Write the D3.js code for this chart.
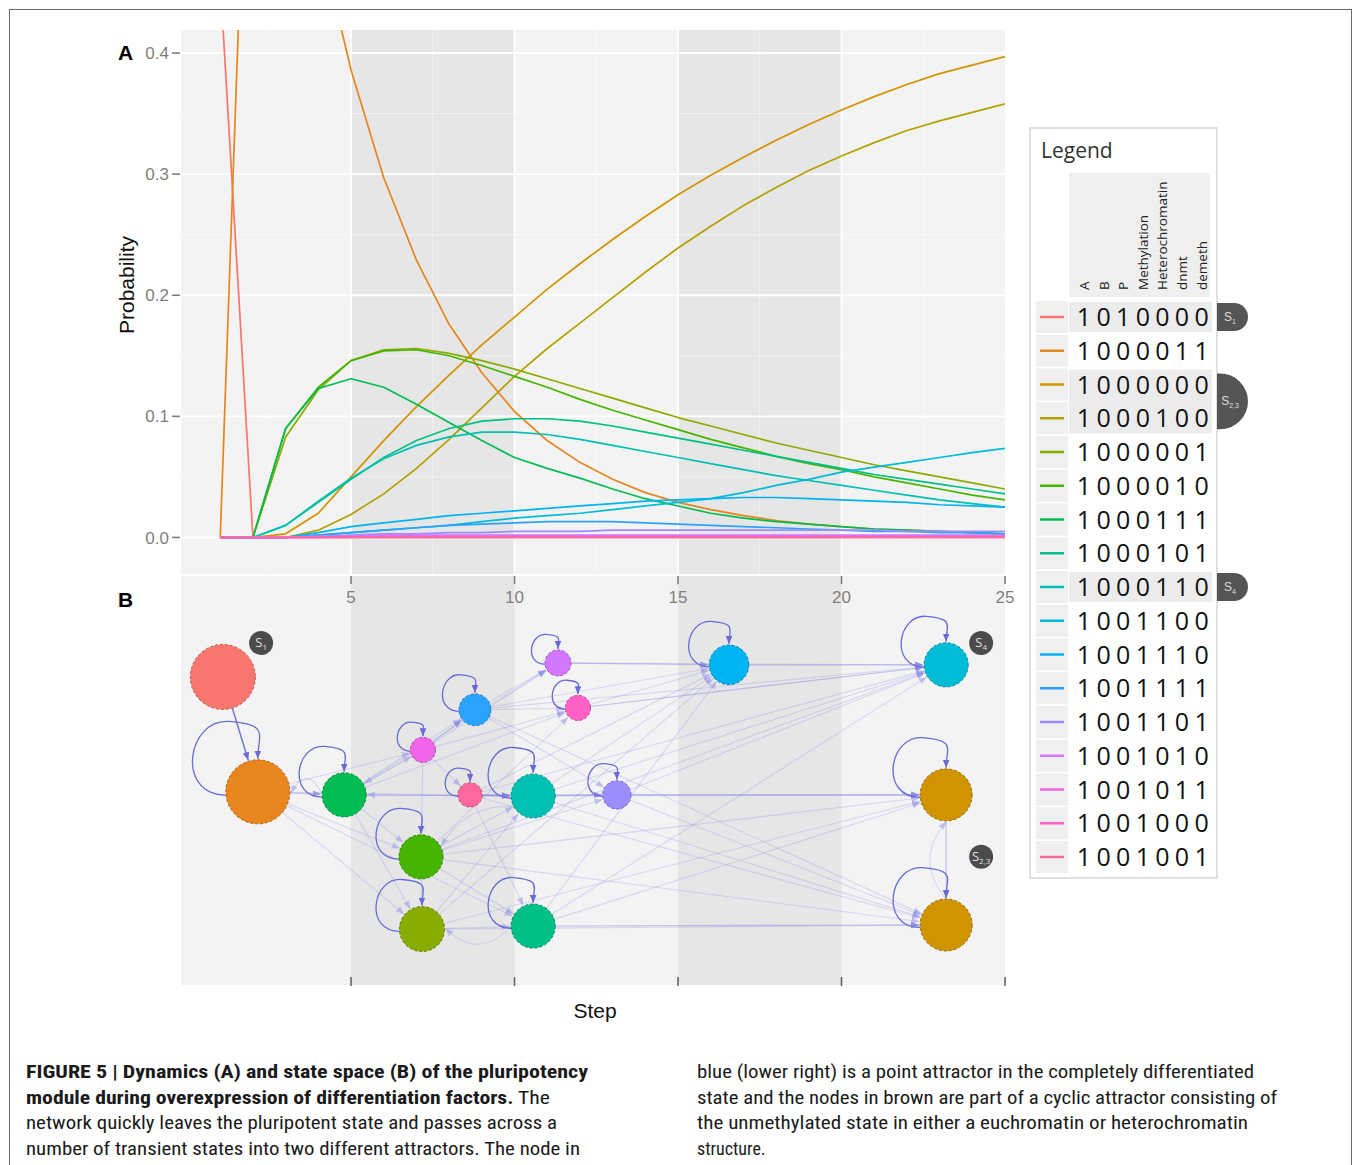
<!DOCTYPE html>
<html lang="en">
<head>
<meta charset="UTF-8" />
<title>Figure 5</title>
<script src="https://d3js.org/d3.v7.min.js"></script>
<style>
  body { margin: 0; background: #fff; }
  svg text { font-family: "Liberation Sans", Arial, sans-serif; }
</style>
</head>
<body>
<svg id="fig" width="1354" height="1165"></svg>
<script>
// ---- data -------------------------------------------------------------
var steps = [1, 2, 3, 4, 5, 6, 7, 8, 9, 10, 11, 12, 13, 14, 15, 16, 17, 18, 19, 20, 21, 22, 23, 24, 25];
var xTicks = [5, 10, 15, 20, 25];
var yTicks = [0, 0.1, 0.2, 0.3, 0.4];
var yTickLabels = ["0.0", "0.1", "0.2", "0.3", "0.4"];

var states = ["1010000", "1000011", "1000000", "1000100", "1000001", "1000010", "1000111", "1000101",
  "1000110", "1001100", "1001110", "1001111", "1001101", "1001010", "1001011", "1001000", "1001001"];
var stateColumns = ["A", "B", "P", "Methylation", "Heterochromatin", "dnmt", "demeth"];
var attractorTags = [{ rows: [0], sub: "1" }, { rows: [2, 3], sub: "2,3" }, { rows: [8], sub: "4" }];

// probability of each state per step (steps 1..25)
var p1010000 = [0.46, 0, 0, 0, 0, 0, 0, 0, 0, 0, 0, 0, 0, 0, 0, 0, 0, 0, 0, 0, 0, 0, 0, 0, 0];
var p1000011 = [0, 0.76, 0.64, 0.50, 0.386, 0.297, 0.229, 0.176, 0.136, 0.104, 0.080, 0.062, 0.048, 0.037, 0.029, 0.023, 0.018, 0.014, 0.011, 0.009, 0.007, 0.006, 0.005, 0.004, 0.003];
var p1000000 = [0, 0, 0.003, 0.02, 0.05, 0.08, 0.108, 0.134, 0.159, 0.182, 0.205, 0.226, 0.246, 0.265, 0.283, 0.299, 0.314, 0.328, 0.341, 0.353, 0.364, 0.374, 0.383, 0.390, 0.397];
var p1000100 = [0, 0, 0, 0.006, 0.019, 0.036, 0.057, 0.081, 0.107, 0.133, 0.156, 0.177, 0.198, 0.219, 0.239, 0.257, 0.274, 0.289, 0.303, 0.315, 0.326, 0.336, 0.344, 0.351, 0.358];
var p1000001 = [0, 0, 0.083, 0.122, 0.146, 0.155, 0.156, 0.152, 0.146, 0.139, 0.131, 0.123, 0.115, 0.107, 0.099, 0.092, 0.085, 0.078, 0.072, 0.066, 0.060, 0.055, 0.050, 0.045, 0.040];
var p1000010 = [0, 0, 0.090, 0.124, 0.146, 0.154, 0.155, 0.150, 0.142, 0.133, 0.124, 0.114, 0.105, 0.097, 0.089, 0.081, 0.074, 0.067, 0.061, 0.056, 0.050, 0.045, 0.040, 0.035, 0.031];
var p1000111 = [0, 0, 0.090, 0.123, 0.131, 0.124, 0.110, 0.095, 0.080, 0.066, 0.057, 0.049, 0.040, 0.032, 0.026, 0.020, 0.016, 0.013, 0.011, 0.009, 0.007, 0.006, 0.005, 0.004, 0.003];
var p1000101 = [0, 0, 0.010, 0.029, 0.048, 0.066, 0.080, 0.090, 0.096, 0.098, 0.098, 0.096, 0.092, 0.087, 0.082, 0.077, 0.072, 0.067, 0.062, 0.057, 0.052, 0.048, 0.044, 0.040, 0.036];
var p1000110 = [0, 0, 0.010, 0.030, 0.049, 0.065, 0.076, 0.083, 0.087, 0.087, 0.085, 0.081, 0.076, 0.071, 0.066, 0.061, 0.056, 0.051, 0.047, 0.043, 0.039, 0.035, 0.031, 0.028, 0.025];
var p1001100 = [0, 0, 0, 0.002, 0.004, 0.006, 0.008, 0.010, 0.013, 0.016, 0.018, 0.020, 0.023, 0.026, 0.029, 0.032, 0.037, 0.043, 0.048, 0.054, 0.058, 0.062, 0.066, 0.070, 0.0735];
var p1001110 = [0, 0, 0, 0.004, 0.009, 0.012, 0.015, 0.018, 0.020, 0.022, 0.024, 0.026, 0.028, 0.030, 0.031, 0.032, 0.033, 0.033, 0.032, 0.031, 0.030, 0.029, 0.027, 0.026, 0.025];
var p1001111 = [0, 0, 0, 0.002, 0.004, 0.006, 0.008, 0.010, 0.011, 0.012, 0.013, 0.013, 0.013, 0.012, 0.011, 0.010, 0.009, 0.008, 0.007, 0.006, 0.005, 0.005, 0.004, 0.004, 0.003];
var p1001101 = [0, 0, 0, 0.001, 0.002, 0.003, 0.003, 0.004, 0.004, 0.005, 0.005, 0.005, 0.006, 0.006, 0.006, 0.006, 0.006, 0.006, 0.006, 0.006, 0.006, 0.005, 0.005, 0.005, 0.005];
var p1001010 = [0, 0, 0, 0.001, 0.001, 0.002, 0.002, 0.002, 0.002, 0.002, 0.002, 0.002, 0.002, 0.002, 0.002, 0.002, 0.002, 0.002, 0.002, 0.002, 0.002, 0.002, 0.002, 0.002, 0.002];
var p1001011 = [0, 0, 0, 0, 0.001, 0.001, 0.001, 0.001, 0.001, 0.001, 0.001, 0.001, 0.001, 0.001, 0.001, 0.001, 0.001, 0.001, 0.001, 0.001, 0.001, 0.001, 0.001, 0.001, 0.001];
var p1001000 = [0, 0, 0, 0, 0, 0.0005, 0.0005, 0.0005, 0.0005, 0.0005, 0.0005, 0.0005, 0.0005, 0.0005, 0.0005, 0.0005, 0.0005, 0.0005, 0.0005, 0.0005, 0.0005, 0.0005, 0.0005, 0.0005, 0.0005];
var p1001001 = [0, 0, 0, 0, 0, 0, 0, 0, 0, 0, 0, 0, 0, 0, 0, 0, 0, 0, 0, 0, 0, 0, 0, 0, 0];

var seriesValues = [p1010000, p1000011, p1000000, p1000100, p1000001, p1000010, p1000111, p1000101,
  p1000110, p1001100, p1001110, p1001111, p1001101, p1001010, p1001011, p1001000, p1001001];

// state space network (B): layout step, layout row (0-100), weight, colour index
var nodeStep = [1.08, 2.15, 4.79, 7.14, 7.17, 10.57, 10.57, 8.79, 7.20, 8.64, 11.33, 11.94, 13.13, 16.56, 23.2, 23.2, 23.2];
var nodeRow = [18.5, 48.9, 49.7, 66.1, 85.2, 84.4, 50.0, 27.2, 37.8, 49.7, 14.8, 26.7, 49.7, 15.3, 15.3, 49.7, 84.1];
var nodeWeight = [1.0, 0.97, 0.46, 0.46, 0.48, 0.46, 0.46, 0.24, 0.15, 0.14, 0.16, 0.15, 0.19, 0.37, 0.46, 0.64, 0.64];
var nodeHue = [0, 1, 6, 5, 4, 7, 8, 11, 14, 16, 13, 15, 12, 10, 9, 2, 2];
var nodeLoop = [false, true, true, true, true, true, true, true, true, true, true, true, true, true, true, true, true];
// [source, target, strength, bend]
var edges = [
  [0, 1, 3, 0], [1, 2, 2, 0], [1, 3, 1, 0], [1, 4, 1, 0], [1, 6, 1, 0], [1, 8, 1, 0], [1, 5, 1, 0],
  [2, 1, 1, 0.35], [2, 3, 1, 0], [2, 4, 1, 0], [2, 6, 2, 0], [2, 7, 1, 0], [2, 8, 1, 0], [2, 10, 1, 0], [2, 11, 1, 0],
  [3, 4, 1, 0], [3, 5, 1, 0], [3, 6, 1, 0], [3, 12, 1, 0], [3, 14, 1, 0], [3, 15, 1, 0], [3, 16, 1, 0], [3, 11, 1, 0],
  [4, 5, 1, 0], [4, 6, 1, 0], [4, 15, 1, 0], [4, 16, 1, 0], [4, 13, 1, 0],
  [5, 4, 1, -0.3], [5, 13, 1, 0], [5, 14, 1, 0], [5, 15, 1, 0], [5, 16, 2, 0],
  [6, 12, 2, 0], [6, 13, 1, 0], [6, 14, 1, 0], [6, 15, 1, 0], [6, 16, 1, 0], [6, 2, 1, 0], [6, 3, 1, 0.2],
  [7, 10, 1, 0], [7, 11, 1, 0], [7, 13, 1, 0], [7, 14, 1, 0], [7, 12, 1, 0], [7, 16, 1, 0],
  [8, 7, 2, 0], [8, 10, 1, 0], [8, 11, 1, 0], [8, 9, 1, 0], [8, 2, 1, 0], [8, 3, 1, 0],
  [9, 6, 2, 0], [9, 12, 1, 0], [9, 13, 1, 0], [9, 14, 1, 0], [9, 15, 1, 0], [9, 16, 1, 0], [9, 5, 1, 0],
  [10, 13, 2, 0], [10, 14, 1, 0], [11, 13, 1, 0], [11, 14, 2, 0],
  [12, 14, 1, 0], [12, 15, 2, 0], [12, 16, 1, 0], [13, 14, 2, 0], [15, 16, 2, 0], [16, 15, 1, -0.25]
];
var badgeStep = [2.25, 24.27, 24.27];
var badgeRow = [9.5, 9.5, 66.1];
var badgeSub = ["1", "4", "2,3"];

var captionLeft = [
  [["FIGURE 5 | Dynamics (A) and state space (B) of the pluripotency", true]],
  [["module during overexpression of differentiation factors.", true], [" The", false]],
  [["network quickly leaves the pluripotent state and passes across a", false]],
  [["number of transient states into two different attractors. The node in", false]]
];
var captionRight = [
  "blue (lower right) is a point attractor in the completely differentiated",
  "state and the nodes in brown are part of a cyclic attractor consisting of",
  "the unmethylated state in either a euchromatin or heterochromatin",
  "structure."
];

// ---- ggplot-like hue palette (polar LUV) -----------------------------
function hueColour(h, c, l) {
  var hr = h * Math.PI / 180;
  var U = c * Math.cos(hr), V = c * Math.sin(hr);
  var Xn = 95.047, Yn = 100, Zn = 108.883;
  var Y = l > 8 ? Yn * Math.pow((l + 16) / 116, 3) : Yn * l / 903.3;
  var d = Xn + 15 * Yn + 3 * Zn, un = 4 * Xn / d, vn = 9 * Yn / d;
  var u = U / (13 * l) + un, v = V / (13 * l) + vn;
  var X = 9 * Y * u / (4 * v), Z = -X / 3 - 5 * Y + 3 * Y / v;
  X /= 100; Y /= 100; Z /= 100;
  var lin = [3.240479 * X - 1.537150 * Y - 0.498535 * Z,
    -0.969256 * X + 1.875992 * Y + 0.041556 * Z,
    0.055648 * X - 0.204043 * Y + 1.057311 * Z];
  var g = function (t) {
    t = t <= 0.0031308 ? 12.92 * t : 1.055 * Math.pow(t, 1 / 2.4) - 0.055;
    return Math.round(255 * Math.max(0, Math.min(1, t)));
  };
  return d3.rgb(g(lin[0]), g(lin[1]), g(lin[2])).formatHex();
}
var palette = states.map(function (s, i) { return hueColour(15 + 360 * i / states.length, 100, 65); });

// ---- layout ------------------------------------------------------------
var svg = d3.select("#fig");
var panelL = 181, panelR = 1005, aTop = 30, aBottom = 575, bTop = 607, bBottom = 985;
var x = d3.scaleLinear().domain([-0.2, 25]).range([panelL, panelR]);
var y = d3.scaleLinear().domain([-0.031, 0.419]).range([aBottom, aTop]);
var yB = d3.scaleLinear().domain([0, 100]).range([bTop, bBottom]);
var rScale = d3.scaleSqrt().domain([0, 1]).range([0, 32.5]);

// outer frame
svg.append("rect").attr("x", 9.5).attr("y", 9.5).attr("width", 1342).attr("height", 1200)
  .attr("fill", "none").attr("stroke", "#6a6a6a").attr("stroke-width", 1);

// background with step bands, shared by both panels
svg.append("rect").attr("x", panelL).attr("y", aTop).attr("width", panelR - panelL).attr("height", bBottom - aTop)
  .attr("fill", "#f3f3f3");
svg.selectAll("rect.band").data([[5, 10], [15, 20]]).enter().append("rect").attr("class", "band")
  .attr("x", function (d) { return x(d[0]); }).attr("y", aTop)
  .attr("width", function (d) { return x(d[1]) - x(d[0]); }).attr("height", bBottom - aTop)
  .attr("fill", "#e6e6e6");

// grid of panel A
var grid = svg.append("g");
grid.selectAll("line.hmin").data([0.05, 0.15, 0.25, 0.35]).enter().append("line")
  .attr("x1", panelL).attr("x2", panelR).attr("y1", function (d) { return y(d); }).attr("y2", function (d) { return y(d); })
  .attr("stroke", "#fff").attr("stroke-opacity", 0.6).attr("stroke-width", 0.8);
grid.selectAll("line.vmin").data([2.5, 7.5, 12.5, 17.5, 22.5]).enter().append("line")
  .attr("y1", aTop).attr("y2", aBottom).attr("x1", function (d) { return x(d); }).attr("x2", function (d) { return x(d); })
  .attr("stroke", "#fff").attr("stroke-opacity", 0.6).attr("stroke-width", 0.8);
grid.selectAll("line.hmaj").data(yTicks).enter().append("line")
  .attr("x1", panelL).attr("x2", panelR).attr("y1", function (d) { return y(d); }).attr("y2", function (d) { return y(d); })
  .attr("stroke", "#fff").attr("stroke-width", 1.8);
grid.selectAll("line.vmaj").data(xTicks.slice(0, 4)).enter().append("line")
  .attr("y1", aTop).attr("y2", aBottom).attr("x1", function (d) { return x(d); }).attr("x2", function (d) { return x(d); })
  .attr("stroke", "#fff").attr("stroke-width", 1.8);
grid.append("line").attr("x1", panelL).attr("x2", panelR).attr("y1", aBottom).attr("y2", aBottom)
  .attr("stroke", "#fff").attr("stroke-width", 1.8);

// lines
svg.append("clipPath").attr("id", "clipA").append("rect")
  .attr("x", panelL).attr("y", aTop).attr("width", panelR - panelL).attr("height", aBottom - aTop);
var line = d3.line().x(function (d, i) { return x(steps[i]); }).y(function (d) { return y(d); });
svg.append("g").attr("clip-path", "url(#clipA)").selectAll("path").data(seriesValues).enter().append("path")
  .attr("d", line).attr("fill", "none")
  .attr("stroke", function (d, i) { return palette[i]; })
  .attr("stroke-width", 1.7).attr("stroke-linejoin", "round");

// y axis
var yAxis = svg.append("g");
yAxis.selectAll("text").data(yTicks).enter().append("text")
  .attr("x", 169).attr("y", function (d) { return y(d); }).attr("dy", "0.36em")
  .attr("text-anchor", "end").attr("fill", "#7f7f7f").style("font-size", "17px")
  .text(function (d, i) { return yTickLabels[i]; });
yAxis.selectAll("line").data(yTicks).enter().append("line")
  .attr("x1", 172).attr("x2", 180).attr("y1", function (d) { return y(d); }).attr("y2", function (d) { return y(d); })
  .attr("stroke", "#7f7f7f").attr("stroke-width", 1.6);
svg.append("text").attr("transform", "translate(134,285) rotate(-90)").attr("text-anchor", "middle")
  .attr("fill", "#111").style("font-size", "21px").text("Probability");

// x axis (between panels) and lower ticks
var xAxis = svg.append("g");
xAxis.selectAll("line.t1").data(xTicks).enter().append("line")
  .attr("x1", function (d) { return x(d); }).attr("x2", function (d) { return x(d); })
  .attr("y1", 576).attr("y2", 584).attr("stroke", "#7f7f7f").attr("stroke-width", 1.6);
xAxis.selectAll("text").data(xTicks).enter().append("text")
  .attr("x", function (d) { return x(d); }).attr("y", 603).attr("text-anchor", "middle")
  .attr("fill", "#7f7f7f").style("font-size", "17px").text(function (d) { return d; });
xAxis.selectAll("line.t2").data(xTicks).enter().append("line")
  .attr("x1", function (d) { return x(d); }).attr("x2", function (d) { return x(d); })
  .attr("y1", 977).attr("y2", 986).attr("stroke", "#666").attr("stroke-width", 1.6);
svg.append("text").attr("x", 595).attr("y", 1018).attr("text-anchor", "middle")
  .attr("fill", "#111").style("font-size", "21px").text("Step");

svg.append("text").attr("x", 118).attr("y", 60).style("font-size", "21px").style("font-weight", "bold").text("A");
svg.append("text").attr("x", 118).attr("y", 607).style("font-size", "21px").style("font-weight", "bold").text("B");

// ---- network (B) -------------------------------------------------------
var defs = svg.append("defs");
function marker(id, fill, op) {
  defs.append("marker").attr("id", id).attr("viewBox", "0 -4 8 8").attr("refX", 8).attr("refY", 0)
    .attr("markerWidth", 8).attr("markerHeight", 8).attr("markerUnits", "userSpaceOnUse").attr("orient", "auto")
    .append("path").attr("d", "M0,-3.3L8,0L0,3.3Z").attr("fill", fill).attr("fill-opacity", op);
}
marker("arF", "#8c8ce8", 0.45);
marker("arM", "#7f7fe0", 0.7);
marker("arS", "#6a6ad4", 1);

var nodes = nodeStep.map(function (s, i) {
  return { cx: x(s), cy: yB(nodeRow[i]), r: rScale(nodeWeight[i]), col: palette[nodeHue[i]], loop: nodeLoop[i] };
});

var net = svg.append("g");
net.selectAll("path.edge").data(edges).enter().append("path")
  .attr("d", function (e) {
    var a = nodes[e[0]], b = nodes[e[1]];
    var dx = b.cx - a.cx, dy = b.cy - a.cy, len = Math.sqrt(dx * dx + dy * dy);
    var ux = dx / len, uy = dy / len;
    var sx = a.cx + ux * a.r, sy = a.cy + uy * a.r;
    var tx = b.cx - ux * (b.r + 1), ty = b.cy - uy * (b.r + 1);
    if (!e[3]) return "M" + sx + "," + sy + "L" + tx + "," + ty;
    var mx = (sx + tx) / 2 - uy * len * e[3], my = (sy + ty) / 2 + ux * len * e[3];
    return "M" + sx + "," + sy + "Q" + mx + "," + my + " " + tx + "," + ty;
  })
  .attr("fill", "none")
  .attr("stroke", function (e) { return e[2] === 3 ? "#6a6ad4" : "#8c8ce8"; })
  .attr("stroke-opacity", function (e) { return e[2] === 3 ? 0.95 : e[2] === 2 ? 0.5 : 0.28; })
  .attr("stroke-width", function (e) { return e[2] === 3 ? 1.4 : 1.1; })
  .attr("marker-end", function (e) { return e[2] === 3 ? "url(#arS)" : e[2] === 2 ? "url(#arM)" : "url(#arF)"; });

net.selectAll("path.loop").data(nodes.filter(function (n) { return n.loop; })).enter().append("path")
  .attr("d", function (n) {
    var cx = n.cx, cy = n.cy, r = n.r;
    return "M" + (cx - r * 0.98) + "," + (cy + r * 0.1) +
      "C" + (cx - 2.6 * r) + "," + (cy + 0.1 * r) + " " + (cx - 2.2 * r) + "," + (cy - 2.3 * r) + " " + (cx - 0.9 * r) + "," + (cy - 2.2 * r) +
      "S" + cx + "," + (cy - 1.8 * r) + " " + cx + "," + (cy - r - 1);
  })
  .attr("fill", "none").attr("stroke", "#6a6ad4").attr("stroke-width", 1.3).attr("marker-end", "url(#arS)");

net.selectAll("circle").data(nodes).enter().append("circle")
  .attr("cx", function (n) { return n.cx; }).attr("cy", function (n) { return n.cy; })
  .attr("r", function (n) { return n.r; })
  .attr("fill", function (n) { return n.col; })
  .attr("stroke", function (n) { return d3.color(n.col).darker(0.9); })
  .attr("stroke-width", 1).attr("stroke-dasharray", "3,2");

var badges = net.selectAll("g.badge").data(badgeSub).enter().append("g")
  .attr("transform", function (d, i) { return "translate(" + x(badgeStep[i]) + "," + yB(badgeRow[i]) + ")"; });
badges.append("circle").attr("r", 12).attr("fill", "#4b4b4b");
var bt = badges.append("text").attr("text-anchor", "middle").attr("y", 4).attr("fill", "#e0e0e0")
  .style("font-family", "Open Sans").style("font-size", "13px");
bt.append("tspan").text("S");
bt.append("tspan").attr("dy", 3).style("font-size", "8px").text(function (d) { return d; });

// ---- legend ------------------------------------------------------------
var lg = svg.append("g").style("font-family", "'Open Sans', sans-serif");
var rowY = function (i) { return 317 + i * 33.75; };
var colX = function (j) { return 1084 + j * 19.6; };
lg.append("rect").attr("x", 1030).attr("y", 128).attr("width", 187).attr("height", 750)
  .attr("fill", "#fff").attr("stroke", "#e0e0e0").attr("stroke-width", 2);
lg.append("text").attr("x", 1041).attr("y", 158).attr("fill", "#333").style("font-size", "21px")
  .style("font-family", "'Open Sans', sans-serif").text("Legend");
lg.append("rect").attr("x", 1069).attr("y", 173).attr("width", 141).attr("height", 124).attr("fill", "#efefef");
lg.selectAll("text.hdr").data(stateColumns).enter().append("text")
  .attr("transform", function (d, j) { return "translate(" + (colX(j) + 5) + ",290) rotate(-90)"; })
  .attr("fill", "#222").style("font-size", "13.5px").style("font-family", "'Open Sans', sans-serif")
  .text(function (d) { return d; });

attractorTags.forEach(function (t) {
  var y0 = rowY(t.rows[0]) - (t.rows.length > 1 ? 11 : 14);
  var y1 = rowY(t.rows[t.rows.length - 1]) + (t.rows.length > 1 ? 11 : 14);
  lg.append("rect").attr("x", 1069).attr("y", rowY(t.rows[0]) - 15).attr("width", 143)
    .attr("height", rowY(t.rows[t.rows.length - 1]) - rowY(t.rows[0]) + 30).attr("fill", "#ececec");
  var h = y1 - y0, rx = Math.min(30, h / 2);
  lg.append("path").attr("d", "M1217," + y0 + "H" + (1248 - rx) + "A" + rx + "," + (h / 2) + " 0 0 1 " + (1248 - rx) + "," + y1 + "H1217Z")
    .attr("fill", "#555");
  var tt = lg.append("text").attr("x", 1230).attr("y", (y0 + y1) / 2 + 4).attr("text-anchor", "middle")
    .attr("fill", "#ddd").style("font-size", "12px");
  tt.append("tspan").text("S");
  tt.append("tspan").attr("dy", 3).style("font-size", "7px").text(t.sub);
});

var rows = lg.selectAll("g.row").data(states).enter().append("g")
  .attr("transform", function (d, i) { return "translate(0," + rowY(i) + ")"; });
rows.append("rect").attr("x", 1036).attr("y", -16).attr("width", 32).attr("height", 32).attr("fill", "#efefef");
rows.append("line").attr("x1", 1040).attr("x2", 1064).attr("y1", 0).attr("y2", 0)
  .attr("stroke", function (d, i) { return palette[i]; }).attr("stroke-width", 2.5);
rows.selectAll("text").data(function (d) { return d.split(""); }).enter().append("text")
  .attr("x", function (c, j) { return colX(j); }).attr("y", 9).attr("text-anchor", "middle")
  .attr("fill", "#111").style("font-size", "25px").style("font-family", "'Open Sans', sans-serif")
  .text(function (c) { return c; });

// ---- caption -----------------------------------------------------------
var capFont = "'Liberation Sans Narrow', 'Roboto Condensed', 'Liberation Sans', sans-serif";
var capLeftEnd = [588, 550, 557, 580];
captionLeft.forEach(function (parts, i) {
  var t = svg.append("text").attr("x", 26).attr("y", 1078 + i * 25.5).attr("fill", "#1a1a1a")
    .style("font-family", capFont).style("font-size", "18px")
    .attr("textLength", capLeftEnd[i] - 26).attr("lengthAdjust", "spacingAndGlyphs");
  parts.forEach(function (p) {
    t.append("tspan").style("font-weight", p[1] ? "bold" : "normal").text(p[0]);
  });
});
var capRightEnd = [1254, 1277, 1248, null];
captionRight.forEach(function (s, i) {
  var t = svg.append("text").attr("x", 697).attr("y", 1078 + i * 25.5).attr("fill", "#1a1a1a")
    .style("font-family", capFont).style("font-size", "18px").text(s);
  if (capRightEnd[i]) t.attr("textLength", capRightEnd[i] - 697).attr("lengthAdjust", "spacingAndGlyphs");
});
</script>
</body>
</html>
